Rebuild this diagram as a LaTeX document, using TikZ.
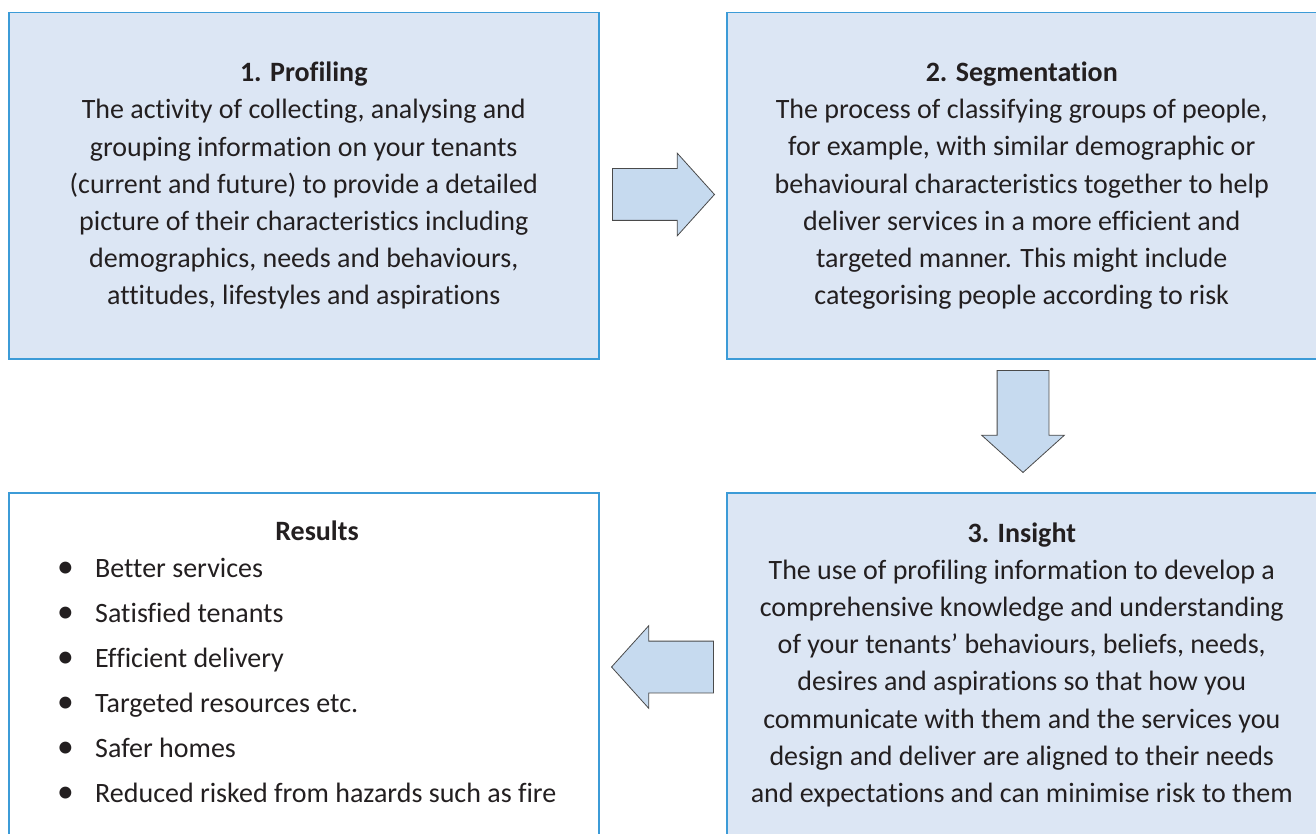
\documentclass[tikz,border=0pt]{standalone}
\usepackage{fontspec}
\setmainfont{Carlito}[Ligatures={NoCommon}]
\usetikzlibrary{shapes.arrows}
\definecolor{boxfill}{HTML}{DCE6F4}
\definecolor{boxline}{HTML}{3C9BD7}
\definecolor{arrfill}{HTML}{C6DAEF}
\definecolor{arrline}{HTML}{4A4A4A}
\definecolor{txt}{HTML}{231F20}
\begin{document}
\begin{tikzpicture}[x=1pt,y=-1pt,
  box/.style={draw=boxline, line width=1.5pt, fill=boxfill, anchor=north west,
    inner sep=0pt, align=center, text=txt, font=\fontsize{28}{37.2}\selectfont},
  blockarrow/.style={single arrow, draw=arrline, line width=0.8pt, fill=arrfill,
    minimum height=102pt, minimum width=82pt, single arrow head extend=15.5pt,
    single arrow tip angle=96, inner sep=0pt, anchor=tip},
  plain/.style={inner sep=0pt, text=txt, font=\fontsize{28}{37.2}\selectfont}]
\useasboundingbox (0,0) rectangle (1316,834);

\node[box, minimum width=590pt, minimum height=346pt] (prof) at (8,12)
 {\textbf{1. Profiling}\\
  The activity of collecting, analysing and\\
  grouping information on your tenants\\
  (current and future) to provide a detailed\\
  picture of their characteristics including\\
  demographics, needs and behaviours,\\
  attitudes, lifestyles and aspirations};

\node[box, minimum width=590pt, minimum height=346pt] (seg) at (726,12)
 {\textbf{2. Segmentation}\\
  The process of classifying groups of people,\\
  for example, with similar demographic or\\
  behavioural characteristics together to help\\
  deliver services in a more efficient and\\
  targeted manner. This might include\\
  categorising people according to risk};

\node[box, minimum width=590pt, minimum height=344pt] (ins) at (726,492)
 {\textbf{3. Insight}\\
  The use of profiling information to develop a\\
  comprehensive knowledge and understanding\\
  of your tenants’ behaviours, beliefs, needs,\\
  desires and aspirations so that how you\\
  communicate with them and the services you\\
  design and deliver are aligned to their needs\\
  and expectations and can minimise risk to them};

\node[box, fill=white, minimum width=590pt, minimum height=344pt] (res) at (8,492) {};
\node[plain] (restitle) at (317,531) {\textbf{Results}};
\node[plain, anchor=west, align=left, font=\fontsize{28}{45}\selectfont] (reslist) at (57,680.5)
 {\makebox[38pt][l]{\scalebox{1.2}{•}}Better services\\
  \makebox[38pt][l]{\scalebox{1.2}{•}}Satisfied tenants\\
  \makebox[38pt][l]{\scalebox{1.2}{•}}Efficient delivery\\
  \makebox[38pt][l]{\scalebox{1.2}{•}}Targeted resources etc.\\
  \makebox[38pt][l]{\scalebox{1.2}{•}}Safer homes\\
  \makebox[38pt][l]{\scalebox{1.2}{•}}Reduced risked from hazards such as fire};

\node[blockarrow] (a1) at (715,194.5) {\rule{0pt}{51pt}};
\node[blockarrow, rotate=-90] (a2) at (1023,473) {\rule{0pt}{51pt}};
\node[blockarrow, rotate=180] (a3) at (611,667) {\rule{0pt}{51pt}};
\end{tikzpicture}
\end{document}
